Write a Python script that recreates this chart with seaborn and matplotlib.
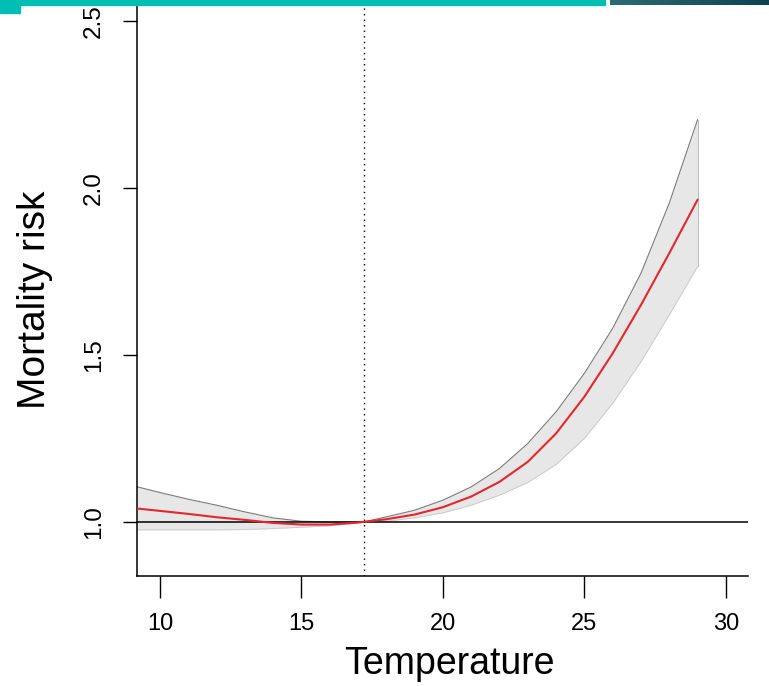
import numpy as np
import pandas as pd
import matplotlib.pyplot as plt
import seaborn as sns
from matplotlib.patches import Rectangle

# values
temperature = [9.2, 10, 11, 12, 13, 14, 15, 16, 17, 17.2, 18, 19, 20,
               21, 22, 23, 24, 25, 26, 27, 28, 29]
risk = [1.040, 1.033, 1.024, 1.014, 1.006, 0.997, 0.992, 0.992, 0.998, 1.000,
        1.008, 1.022, 1.044, 1.076, 1.120, 1.180, 1.265, 1.375, 1.505, 1.650,
        1.805, 1.965]
risk_upper = [1.105, 1.088, 1.068, 1.050, 1.030, 1.012, 1.002, 1.000, 1.000,
              1.000, 1.015, 1.035, 1.065, 1.105, 1.160, 1.235, 1.330, 1.445,
              1.580, 1.745, 1.955, 2.205]
risk_lower = [0.976, 0.976, 0.976, 0.976, 0.977, 0.980, 0.984, 0.988, 0.997,
              1.000, 1.002, 1.012, 1.027, 1.050, 1.080, 1.118, 1.172, 1.250,
              1.355, 1.480, 1.620, 1.765]
mmt = 17.2
x_ticks = [10, 15, 20, 25, 30]
y_ticks = [1.0, 1.5, 2.0, 2.5]

df = pd.DataFrame({"Temperature": temperature, "risk": risk,
                   "upper": risk_upper, "lower": risk_lower})

sns.set_style("ticks")
plt.rcParams['font.family'] = ['Liberation Sans', 'DejaVu Sans']
plt.rcParams['text.color'] = 'black'
plt.rcParams['axes.labelcolor'] = 'black'
plt.rcParams['xtick.color'] = 'black'
plt.rcParams['ytick.color'] = 'black'

W, H = 769, 686
fig = plt.figure(figsize=(W / 100, H / 100), dpi=100)
# axes box in pixels: left 137, right 748, bottom 576, top slightly above figure
top_px = -12.4
ax = fig.add_axes([137 / W, 1 - 576 / H, (748 - 137) / W, (576 - top_px) / H])

ax.fill_between(df["Temperature"], df["lower"], df["upper"],
                color="#e7e7e7", linewidth=0, zorder=1)
ax.plot(df["Temperature"], df["upper"], color="#7a7a7a", lw=0.8, zorder=2)
ax.plot(df["Temperature"], df["lower"], color="#c8c8c8", lw=0.6, zorder=2)
ax.plot([temperature[-1]] * 2, [risk_lower[-1], risk_upper[-1]],
        color="#b0b0b0", lw=0.6, zorder=2)

ax.axhline(1.0, color="black", lw=1.1, zorder=3)
ax.axvline(mmt, color="black", lw=1.0, linestyle=(0, (1, 3)), zorder=3)

sns.lineplot(data=df, x="Temperature", y="risk", color="#e3262f",
             linewidth=1.5, ax=ax, zorder=4)

ax.set_xlim(9.19, 30.78)
ax.set_ylim(0.838, 1 + (522 - top_px) / 334)
ax.set_xticks(x_ticks)
ax.set_xticklabels([str(t) for t in x_ticks])
ax.set_yticks(y_ticks)
ax.set_yticklabels([f"{t:.1f}" for t in y_ticks])

for s in ["top", "right"]:
    ax.spines[s].set_visible(False)
for s in ["left", "bottom"]:
    ax.spines[s].set_linewidth(1.1)
    ax.spines[s].set_color("black")

ax.tick_params(axis="x", length=16, width=1.0, pad=11, labelsize=17)
ax.tick_params(axis="y", length=10, width=1.0, pad=13, labelsize=17.5,
               labelrotation=90)
for lab in ax.get_yticklabels():
    lab.set_va("center")

ax.set_xlabel("Temperature", fontsize=27)
ax.set_ylabel("Mortality risk", fontsize=28)
ax.xaxis.set_label_coords((449 - 137) / (748 - 137), (576 - 664) / (576 - top_px))
ax.yaxis.set_label_coords((35 - 137) / (748 - 137), (576 - 300) / (576 - top_px))
ax.xaxis.label.set_va("center")
ax.yaxis.label.set_va("center")

# slide decoration strip at the top
fig.patches.append(Rectangle((0, 1 - 5 / H), 605 / W, 5 / H, transform=fig.transFigure,
                             color="#00bfb2", zorder=10))
fig.patches.append(Rectangle((0, 1 - 13 / H), 20 / W, 13 / H, transform=fig.transFigure,
                             color="#00bfb2", zorder=10))
grad_ax = fig.add_axes([610 / W, 1 - 5 / H, (W - 610) / W, 5 / H], zorder=10)
grad_ax.imshow(np.linspace(0, 1, 100).reshape(1, -1), aspect="auto",
               cmap=plt.matplotlib.colors.LinearSegmentedColormap.from_list(
                   "bar", ["#2d6b74", "#0d4250"]))
grad_ax.axis("off")

fig.savefig("out.png", dpi=100)
